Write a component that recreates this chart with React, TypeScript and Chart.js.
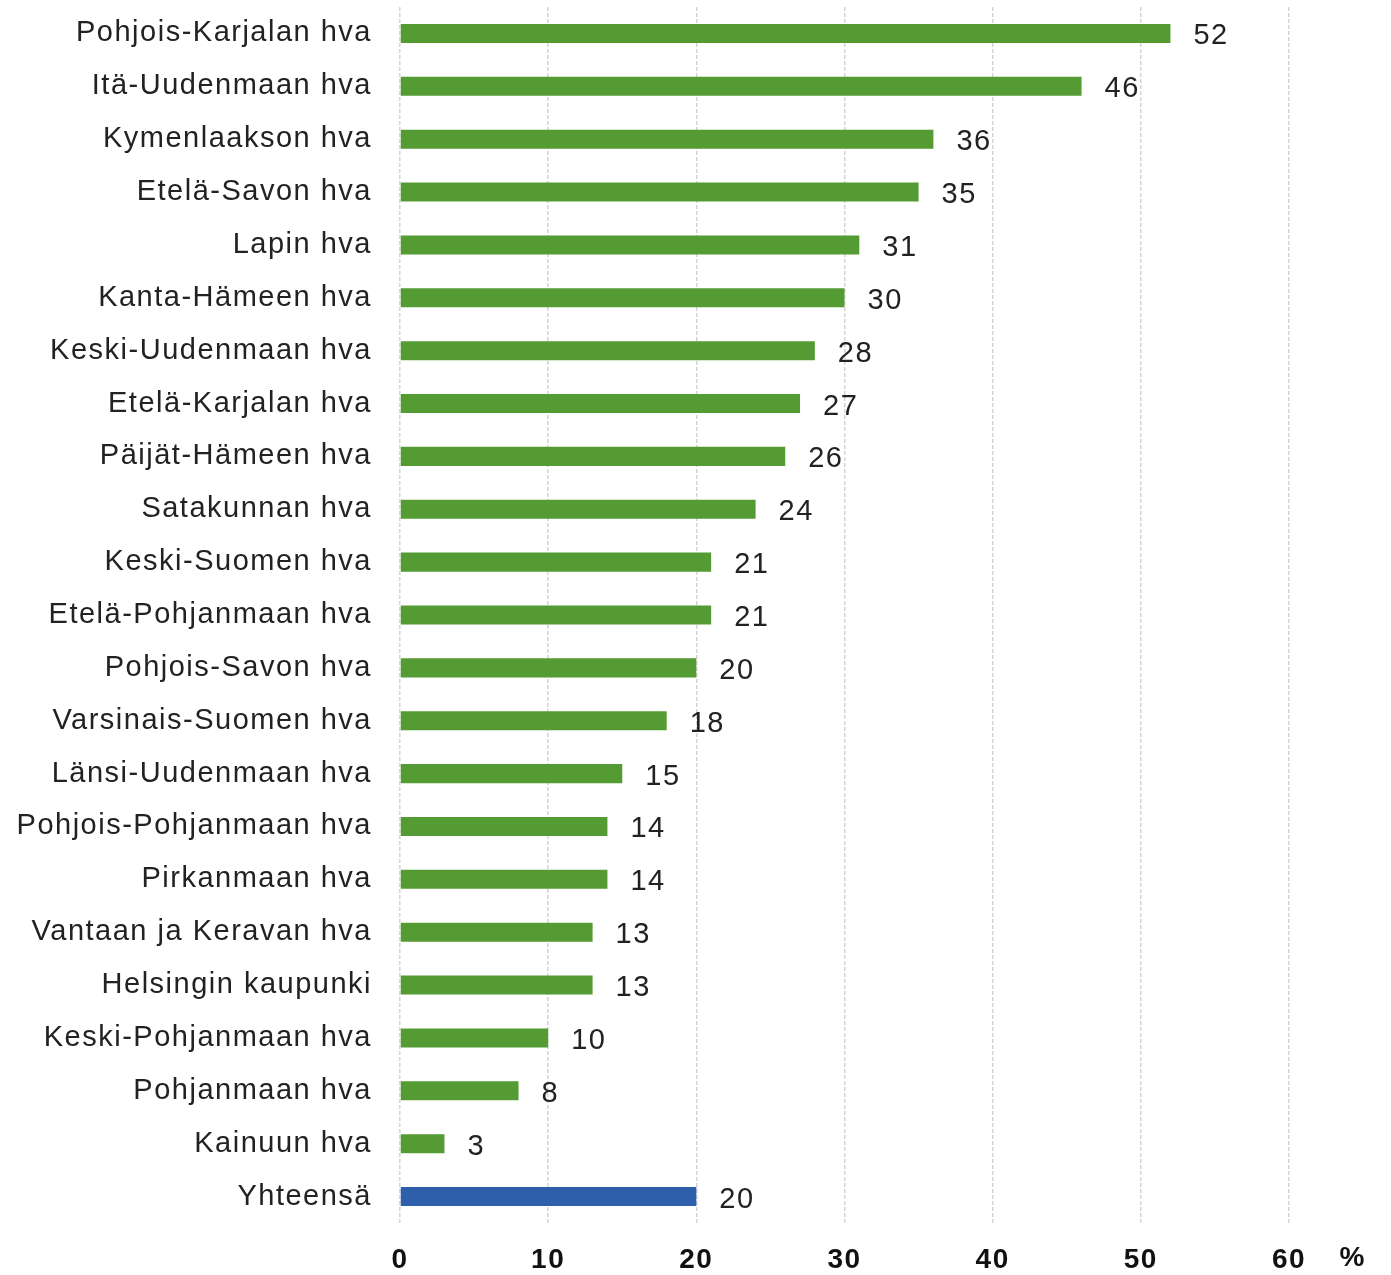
import React, { useEffect, useRef } from "react";
import { Chart, registerables } from "chart.js";

Chart.register(...registerables);

const categories = [
  "Pohjois-Karjalan hva",
  "Itä-Uudenmaan hva",
  "Kymenlaakson hva",
  "Etelä-Savon hva",
  "Lapin hva",
  "Kanta-Hämeen hva",
  "Keski-Uudenmaan hva",
  "Etelä-Karjalan hva",
  "Päijät-Hämeen hva",
  "Satakunnan hva",
  "Keski-Suomen hva",
  "Etelä-Pohjanmaan hva",
  "Pohjois-Savon hva",
  "Varsinais-Suomen hva",
  "Länsi-Uudenmaan hva",
  "Pohjois-Pohjanmaan hva",
  "Pirkanmaan hva",
  "Vantaan ja Keravan hva",
  "Helsingin kaupunki",
  "Keski-Pohjanmaan hva",
  "Pohjanmaan hva",
  "Kainuun hva",
  "Yhteensä",
];

const values = [52, 46, 36, 35, 31, 30, 28, 27, 26, 24, 21, 21, 20, 18, 15, 14, 14, 13, 13, 10, 8, 3, 20];

const xTicks = [0, 10, 20, 30, 40, 50, 60];
const unitLabel = "%";

const GREEN = "#559b33";
const BLUE = "#2e5faa";
const FONT = "'Liberation Sans', Arial, sans-serif";

export default function App() {
  const ref = useRef<HTMLCanvasElement | null>(null);

  useEffect(() => {
    document.body.style.margin = "0";
    const canvas = ref.current;
    if (!canvas) return;

    const spacingPlugin = {
      id: "spacing",
      beforeDraw(chart: any) {
        (chart.ctx as any).letterSpacing = "1.5px";
      },
    };

    const labelPlugin = {
      id: "valueLabels",
      afterDatasetsDraw(chart: any) {
        const ctx = chart.ctx;
        const meta = chart.getDatasetMeta(0);
        ctx.save();
        (ctx as any).letterSpacing = "1.5px";
        ctx.font = `29px ${FONT}`;
        ctx.fillStyle = "#222";
        ctx.textAlign = "left";
        ctx.textBaseline = "middle";
        meta.data.forEach((bar: any, i: number) => {
          ctx.fillText(String(values[i]), bar.x + 23, bar.y + 3);
        });
        const xs = chart.scales.x;
        (ctx as any).letterSpacing = "0px";
        ctx.font = `bold 28px ${FONT}`;
        ctx.fillStyle = "#111";
        ctx.textAlign = "center";
        ctx.fillText(unitLabel, xs.right + 63, 1258);
        ctx.restore();
      },
    };

    const chart = new Chart(canvas, {
      type: "bar",
      data: {
        labels: categories,
        datasets: [
          {
            data: values,
            backgroundColor: values.map((_, i) => (i === values.length - 1 ? BLUE : GREEN)),
            barPercentage: 0.72,
            categoryPercentage: 0.5,
          },
        ],
      },
      options: {
        indexAxis: "y",
        animation: false,
        responsive: false,
        maintainAspectRatio: false,
        layout: { padding: { left: 0, right: 102, top: 7, bottom: 0 } },
        plugins: {
          legend: { display: false },
          tooltip: { enabled: false },
        },
        scales: {
          x: {
            min: 0,
            max: 60,
            afterBuildTicks(scale: any) {
              scale.ticks = xTicks.map((v) => ({ value: v }));
            },
            afterFit(scale: any) {
              scale.height = 52;
              scale.paddingLeft = 0;
              scale.paddingRight = 0;
            },
            grid: {
              color: "#d4d4d4",
              lineWidth: 1.5,
              drawTicks: false,
            },
            border: { display: false, dash: [4, 2] },
            ticks: {
              font: { family: FONT, size: 28, weight: "bold" },
              color: "#111",
              padding: 20,
            },
          },
          y: {
            afterFit(scale: any) {
              scale.width = 400;
              scale.paddingTop = 0;
              scale.paddingBottom = 0;
            },
            grid: { display: false, drawTicks: false },
            border: { display: false },
            ticks: {
              font: { family: FONT, size: 29 },
              color: "#222",
              padding: 28,
              autoSkip: false,
            },
          },
        },
      },
      plugins: [spacingPlugin, labelPlugin],
    } as any);

    return () => chart.destroy();
  }, []);

  return <canvas ref={ref} width={1391} height={1275} style={{ display: "block" }} />;
}
